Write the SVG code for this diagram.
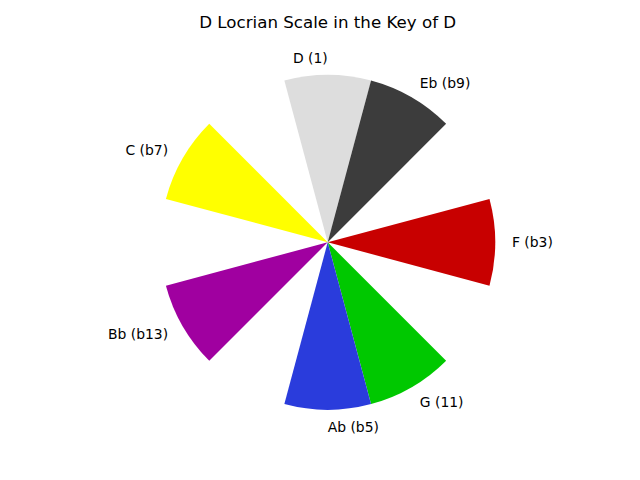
<svg xmlns="http://www.w3.org/2000/svg" width="640" height="480" viewBox="0 0 640 480">
<style>
text{font-family:"DejaVu Sans",sans-serif;fill:#000}
.lbl{font-size:13.9px}
.title{font-size:16.67px}
.w{stroke:none}
</style>
<rect width="640" height="480" fill="#fff"/>
<text class="title" x="327.7" y="28" text-anchor="middle">D Locrian Scale in the Key of D</text>
<g id="D"><path class="w" fill="#dddddd" d="M327.7,242.3 L284.35,80.51 A167.5,167.5 0 0 1 371.05,80.51 Z"/><text class="lbl" x="327.7" y="58.05" dy="0.36em" text-anchor="end">D (1)</text></g>
<g id="Eb"><path class="w" fill="#3c3c3c" d="M327.7,242.3 L371.05,80.51 A167.5,167.5 0 0 1 446.14,123.86 Z"/><text class="lbl" x="419.8" y="82.7" dy="0.36em">Eb (b9)</text></g>
<g id="F"><path class="w" fill="#c80000" d="M327.7,242.3 L489.49,198.95 A167.5,167.5 0 0 1 489.49,285.65 Z"/><text class="lbl" x="511.95" y="242.3" dy="0.36em">F (b3)</text></g>
<g id="G"><path class="w" fill="#00c800" d="M327.7,242.3 L446.14,360.74 A167.5,167.5 0 0 1 371.05,404.09 Z"/><text class="lbl" x="419.8" y="401.9" dy="0.36em">G (11)</text></g>
<g id="Ab"><path class="w" fill="#2a3cdc" d="M327.7,242.3 L371.05,404.09 A167.5,167.5 0 0 1 284.35,404.09 Z"/><text class="lbl" x="327.7" y="426.55" dy="0.36em">Ab (b5)</text></g>
<g id="Bb"><path class="w" fill="#a000a0" d="M327.7,242.3 L209.26,360.74 A167.5,167.5 0 0 1 165.91,285.65 Z"/><text class="lbl" x="168.1" y="334.4" dy="0.36em" text-anchor="end">Bb (b13)</text></g>
<g id="C"><path class="w" fill="#ffff00" d="M327.7,242.3 L165.91,198.95 A167.5,167.5 0 0 1 209.26,123.86 Z"/><text class="lbl" x="168.1" y="150.2" dy="0.36em" text-anchor="end">C (b7)</text></g>
<g id="connectors"/>
</svg>
